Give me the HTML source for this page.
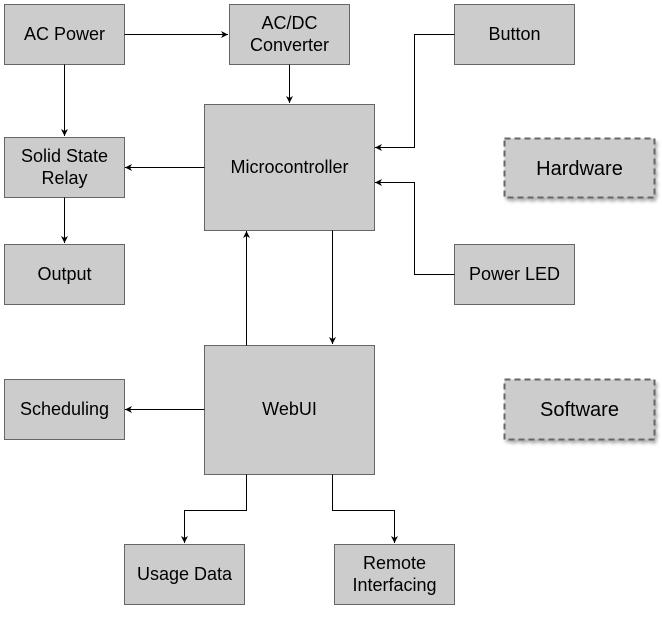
<!DOCTYPE html>
<html><head><style>body{margin:0;background:#fff}</style></head><body>
<svg width="662" height="612" xmlns="http://www.w3.org/2000/svg" font-family="Liberation Sans, sans-serif">
<defs>
<marker id="a" markerWidth="8" markerHeight="8" refX="7" refY="4" orient="auto" markerUnits="userSpaceOnUse"><path d="M0,0.5 L7,4 L0,7.5 L2,4 Z" fill="#000"/></marker>
<filter id="s" x="-10%" y="-10%" width="130%" height="140%"><feDropShadow dx="2" dy="3" stdDeviation="1.5" flood-color="#000" flood-opacity="0.3"/></filter>
</defs>
<g fill="#cccccc" stroke="#666" stroke-width="1">
<rect x="4.5" y="4.5" width="120" height="60"/>
<rect x="229.5" y="4.5" width="120" height="60"/>
<rect x="454.5" y="4.5" width="120" height="60"/>
<rect x="204.5" y="104.5" width="170" height="126"/>
<rect x="4.5" y="137.5" width="120" height="60"/>
<rect x="4.5" y="244.5" width="120" height="60"/>
<rect x="454.5" y="244.5" width="120" height="60"/>
<rect x="204.5" y="345.5" width="170" height="129"/>
<rect x="4.5" y="379.5" width="120" height="60"/>
<rect x="124.5" y="544.5" width="120" height="60"/>
<rect x="334.5" y="544.5" width="120" height="60"/>
<rect x="504.5" y="138.5" width="150" height="59" stroke-dasharray="6 4" stroke-width="2" filter="url(#s)"/>
<rect x="504.5" y="379.5" width="150" height="60" stroke-dasharray="6 4" stroke-width="2" filter="url(#s)"/>
</g>
<g fill="none" stroke="#000" stroke-width="1" marker-end="url(#a)">
<path d="M124.5,34.5 H228"/>
<path d="M289.5,64.5 V103"/>
<path d="M64.5,64.5 V136"/>
<path d="M204.5,167.5 H125"/>
<path d="M64.5,197.5 V243"/>
<path d="M454.5,34.5 H414.5 V147.5 H375"/>
<path d="M454.5,274.5 H414.5 V182.5 H375"/>
<path d="M246.5,345.5 V231"/>
<path d="M332.5,230.5 V344"/>
<path d="M204.5,409.5 H125"/>
<path d="M246.5,474.5 V510.5 H184.5 V543"/>
<path d="M332.5,474.5 V510.5 H394.5 V543"/>
</g>
<g font-size="18" text-anchor="middle" fill="#000">
<text x="64.5" y="40">AC Power</text>
<text x="289.5" y="29">AC/DC</text><text x="289.5" y="51">Converter</text>
<text x="514.5" y="40">Button</text>
<text x="289.5" y="173">Microcontroller</text>
<text x="64.5" y="162">Solid State</text><text x="64.5" y="184">Relay</text>
<text x="64.5" y="280">Output</text>
<text x="514.5" y="280">Power LED</text>
<text x="289.5" y="415">WebUI</text>
<text x="64.5" y="415">Scheduling</text>
<text x="184.5" y="580">Usage Data</text>
<text x="394.5" y="569">Remote</text><text x="394.5" y="591">Interfacing</text>
<text x="579.5" y="175" font-size="20">Hardware</text>
<text x="579.5" y="416" font-size="20">Software</text>
</g>
</svg>
</body></html>
